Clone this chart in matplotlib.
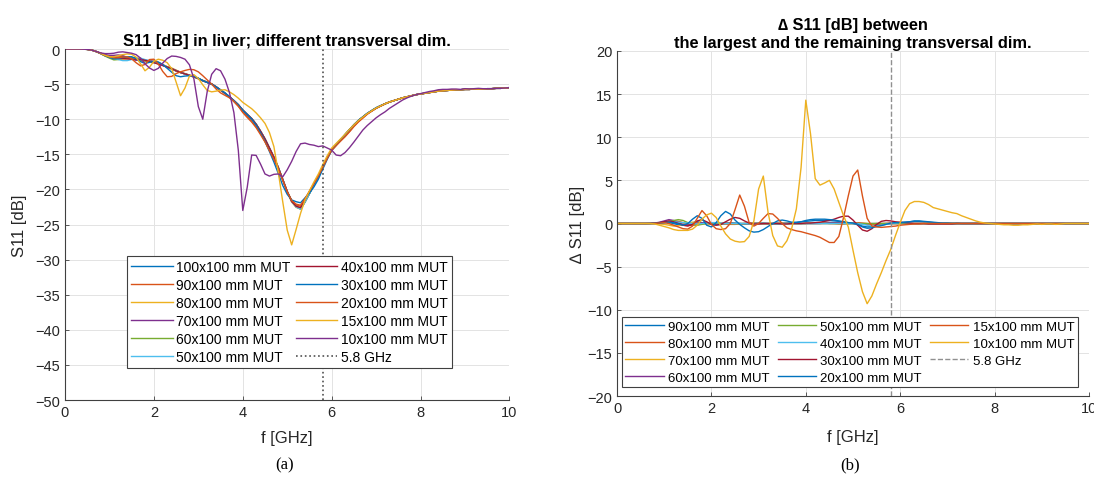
import matplotlib
matplotlib.use('Agg')
import matplotlib.pyplot as plt
import numpy as np

plt.rcParams['font.family'] = ['Liberation Sans', 'DejaVu Sans']

# frequency sampling grid [GHz], 0..10 in 0.1 steps
freq = np.linspace(0, 10, 101)

# S11 [dB] of the largest (100x100 mm) MUT
s11_100 = [
    0, 0, 0, 0, -0.02, -0.05, -0.15, -0.35, -0.6, -0.85,
    -1.0, -1.1, -1.15, -1.2, -1.3, -1.4, -1.45, -1.5, -1.6, -1.7,
    -1.85, -2.05, -2.3, -2.55, -2.8, -3.1, -3.35, -3.55, -3.75, -3.95,
    -4.2, -4.5, -4.75, -5.0, -5.4, -5.85, -6.3, -6.8, -7.35, -7.95,
    -8.7, -9.3, -9.9, -10.7, -11.7, -12.8, -14.1, -15.4, -16.9, -18.6,
    -20.3, -21.7, -22.5, -22.8, -21.8, -20.6, -19.4, -18.2, -16.8, -15.5,
    -14.3, -13.6, -12.9, -12.2, -11.5, -10.8, -10.2, -9.7, -9.2, -8.8,
    -8.4, -8.1, -7.8, -7.55, -7.35, -7.15, -6.95, -6.8, -6.65, -6.5,
    -6.4, -6.3, -6.2, -6.1, -6.0, -5.95, -5.9, -5.85, -5.8, -5.8,
    -5.75, -5.75, -5.7, -5.7, -5.7, -5.65, -5.65, -5.6, -5.6, -5.55,
    -5.5,
]

# Delta S11 [dB] = S11(100x100) - S11(dim)
d_90 = [
    0, 0, 0, 0, 0, 0, 0, 0.02, 0.05, 0.1,
    0.15, 0.1, 0, -0.15, -0.2, -0.1, 0.1, 0.2, 0.1, 0,
    -0.1, -0.15, -0.1, 0, 0.05, 0.05, 0, -0.05, -0.05, 0,
    0.05, 0.05, 0, -0.05, -0.05, 0, 0.05, 0.1, 0.15, 0.2,
    0.25, 0.3, 0.35, 0.35, 0.35, 0.35, 0.3, 0.25, 0.2, 0.1,
    0, -0.15, -0.3, -0.4, -0.35, -0.25, -0.15, -0.05, 0, 0.05,
    0.1, 0.15, 0.2, 0.25, 0.25, 0.2, 0.15, 0.1, 0.05, 0.05,
    0.05, 0.05, 0.05, 0, 0, 0, 0, 0, 0, 0,
    0, 0, 0, 0, 0, 0, 0, 0, 0, 0,
    0, 0, 0, 0, 0, 0, 0, 0, 0, 0,
    0,
]
d_80 = [
    0, 0, 0, 0, 0, 0, 0, 0, 0.02, 0.05,
    0.1, 0.2, 0.3, 0.25, 0.1, -0.1, -0.2, -0.15, 0, 0.1,
    0.1, 0.05, 0, -0.05, -0.1, -0.1, -0.05, 0, 0.05, 0.05,
    0, -0.05, -0.05, 0, 0.05, 0.05, 0, 0, 0, 0,
    0, 0.05, 0.05, 0.05, 0.05, 0, 0, -0.05, -0.05, 0,
    0.05, 0.1, 0.05, 0, -0.1, -0.1, -0.05, 0, 0.05, 0.05,
    0.05, 0.05, 0, 0, 0, 0, 0, 0, 0, 0,
    0, 0, 0, 0, 0, 0, 0, 0, 0, 0,
    0, 0, 0, 0, 0, 0, 0, 0, 0, 0,
    0, 0, 0, 0, 0, 0, 0, 0, 0, 0,
    0,
]
d_70 = [
    0, 0, 0, 0, 0, 0, 0, 0, 0, -0.05,
    -0.1, -0.2, -0.3, -0.25, -0.1, 0.05, 0.15, 0.1, 0, -0.05,
    -0.05, 0, 0.05, 0.05, 0, -0.05, -0.05, 0, 0, 0,
    0, 0, 0, 0, 0, 0, 0, 0, 0, 0,
    0, 0.05, 0.05, 0.05, 0.05, 0.05, 0, 0, 0, 0,
    0, 0, -0.1, -0.1, -0.05, 0, 0, 0, 0, 0,
    0, 0, 0, 0, 0, 0, 0, 0, 0, 0,
    0, 0, 0, 0, 0, 0, 0, 0, 0, 0,
    0, 0, 0, 0, 0, 0, 0, 0, 0, 0,
    0, 0, 0, 0, 0, 0, 0, 0, 0, 0,
    0,
]
d_60 = [
    0, 0, 0, 0, 0, 0, 0, 0.02, 0.05, 0.15,
    0.3, 0.45, 0.35, 0.1, -0.1, -0.2, -0.1, 0.05, 0.1, 0.05,
    0, -0.05, 0, 0.05, 0.05, 0, 0, 0, 0, 0,
    0, 0, 0, 0, 0, 0, 0, 0, 0, 0,
    0, 0, 0, 0, 0.05, 0.1, 0.1, 0.1, 0.05, 0,
    0, -0.05, -0.1, -0.05, 0, 0, 0, 0, 0, 0,
    0, 0, 0, 0, 0, 0, 0, 0, 0, 0,
    0, 0, 0, 0, 0, 0, 0, 0, 0, 0,
    0, 0, 0, 0, 0, 0, 0, 0, 0, 0,
    0, 0, 0, 0, 0, 0, 0, 0, 0, 0,
    0,
]
d_50 = [
    0, 0, 0, 0, 0, 0, 0, 0, 0, 0.05,
    0.1, 0.2, 0.35, 0.45, 0.35, 0.1, -0.1, -0.2, -0.1, 0,
    0.05, 0.05, 0, 0, 0, 0, 0, 0, 0, 0,
    0, 0, 0, 0, 0, 0, 0, 0, 0, 0,
    0, 0, 0, 0, 0, 0, 0, 0, 0, 0,
    0, 0, 0, 0, 0, 0, 0, 0, 0, 0,
    0, 0, 0, 0, 0, 0, 0, 0, 0, 0,
    0, 0, 0, 0, 0, 0, 0, 0, 0, 0,
    0, 0, 0, 0, 0, 0, 0, 0, 0, 0,
    0, 0, 0, 0, 0, 0, 0, 0, 0, 0,
    0,
]
d_40 = [
    0, 0, 0, 0, 0, 0, 0, 0, 0, 0.05,
    0.1, 0.15, 0.2, 0.15, 0.1, 0.05, 0, -0.05, 0, 0.05,
    0.1, 0.1, 0.05, 0, 0, 0, 0, 0, 0, 0,
    0, 0, 0, 0, 0, 0, 0, 0, 0, 0,
    0, 0, 0, 0, 0, 0, 0, 0, 0, 0,
    0, 0, -0.1, -0.2, -0.3, -0.3, -0.2, -0.1, 0, 0.05,
    0.1, 0.1, 0.05, 0, 0, 0, 0, 0, 0, 0,
    0, 0, 0, 0, 0, 0, 0, 0, 0, 0,
    0, 0, 0, 0, 0, 0, 0, 0, 0, 0,
    0, 0, 0, 0, 0, 0, 0, 0, 0, 0,
    0,
]
d_30 = [
    0, 0, 0, 0, 0, 0, 0, 0, 0.02, 0.1,
    0.2, 0.3, 0.2, 0, -0.2, -0.3, -0.1, 0.3, 0.45, 0.2,
    -0.1, -0.2, -0.1, 0.2, 0.5, 0.7, 0.6, 0.3, 0.05, -0.05,
    -0.05, 0, 0, 0, 0, -0.05, -0.05, 0, 0, 0,
    0.05, 0.05, 0.1, 0.15, 0.25, 0.35, 0.5, 0.7, 0.85, 0.85,
    0.4, -0.2, -0.75, -0.9, -0.6, -0.1, 0.25, 0.35, 0.3, 0.2,
    0.15, 0.1, 0.05, 0, 0, 0, -0.05, -0.05, -0.05, -0.05,
    -0.05, -0.05, 0, 0, 0, 0, 0, 0, 0, 0,
    0, 0, 0, 0, 0, 0, 0, 0, 0, 0,
    0, 0, 0, 0, 0, 0, 0, 0, 0, 0,
    0,
]
d_20 = [
    0, 0, 0, 0, 0, 0, 0, 0, 0, 0.05,
    0.1, 0.15, 0.1, -0.05, -0.2, 0, 0.5, 0.9, 0.6, -0.2,
    -0.4, 0.1, 0.9, 1.4, 1.1, 0.4, -0.1, -0.5, -0.85, -1.0,
    -0.95, -0.7, -0.35, 0, 0.3, 0.4, 0.3, 0.15, 0.1, 0.2,
    0.35, 0.45, 0.5, 0.5, 0.5, 0.45, 0.4, 0.3, 0.2, 0.1,
    0.05, -0.1, -0.4, -0.55, -0.5, -0.35, -0.25, -0.1, 0.05, 0.1,
    0.1, 0.15, 0.2, 0.3, 0.3, 0.25, 0.2, 0.15, 0.1, 0.05,
    0.05, 0, 0, 0, 0, 0, 0, 0, 0, 0,
    0, 0, 0, 0, 0, 0, 0, 0, 0, 0,
    0, 0, 0, 0, 0, 0, 0, 0, 0, 0,
    0,
]
d_15 = [
    0, 0, 0, 0, 0, 0, 0, 0, 0, 0.05,
    0.1, 0, -0.2, -0.4, -0.6, -0.65, -0.3, 0.6, 1.5, 0.9,
    -0.1, -0.6, -0.7, -0.6, 0, 1.6, 3.3, 2.0, 0.1, -0.3,
    0, 0.6, 1.15, 1.1, 0.6, 0, -0.5, -0.7, -0.85, -0.95,
    -1.1, -1.25, -1.4, -1.6, -1.9, -2.2, -2.2, -1.5, 0.7, 3.2,
    5.5, 6.2, 3.2, 0.6, -0.3, -0.4, -0.45, -0.4, -0.35, -0.3,
    -0.2, -0.15, -0.1, -0.05, -0.05, 0, 0, 0, 0, 0,
    0, 0, 0, 0, 0, 0, 0, 0, 0, 0,
    0, 0, 0, 0, 0, 0, 0, 0, 0, 0,
    0, 0, 0, 0, 0, 0, 0, 0, 0, 0,
    0,
]
d_10 = [
    0, 0, 0, 0, 0, 0, 0, 0, -0.05, -0.2,
    -0.35, -0.5, -0.7, -0.8, -0.8, -0.8, -0.65, -0.2, 0.5, 1.0,
    1.2, 0.7, -0.3, -1.2, -1.8, -2.05, -2.15, -2.1, -1.5, 0.3,
    4.0, 5.5, 1.3, -1.4, -2.6, -2.75, -2.0, -0.6, 1.7, 6.5,
    14.3, 10.4, 5.2, 4.45, 4.7, 5.0, 4.0, 2.45, 0.9, -0.4,
    -3.1, -5.7, -7.9, -9.3, -8.4, -7.0, -5.7, -4.3, -3.0, -1.4,
    0.1, 1.5, 2.3, 2.55, 2.55, 2.45, 2.2, 1.85, 1.7, 1.55,
    1.4, 1.25, 1.15, 0.9, 0.7, 0.5, 0.3, 0.15, 0.05, 0,
    -0.05, -0.1, -0.15, -0.15, -0.2, -0.2, -0.15, -0.15, -0.1, -0.05,
    -0.1, -0.05, -0.05, -0.1, -0.05, 0, 0, 0, 0, 0,
    0,
]

dims = ['90', '80', '70', '60', '50', '40', '30', '20', '15', '10']
deltas = [d_90, d_80, d_70, d_60, d_50, d_40, d_30, d_20, d_15, d_10]
f_marker = 5.8

colors = ['#0072BD', '#D95319', '#EDB120', '#7E2F8E',
          '#77AC30', '#4DBEEE', '#A2142F']
dark = '#262626'

fig = plt.figure(figsize=(10.94, 4.81), dpi=100)
ax1 = fig.add_axes([0.0594, 0.1663, 0.4063, 0.7297])
ax2 = fig.add_axes([0.564, 0.1746, 0.4314, 0.7173])


def style(ax):
    for side in ['top', 'right']:
        ax.spines[side].set_visible(False)
    for side in ['left', 'bottom']:
        ax.spines[side].set_color('#404040')
        ax.spines[side].set_linewidth(0.8)
    ax.tick_params(direction='in', length=3, width=0.6, colors='#404040',
                   labelcolor=dark, labelsize=10.5)
    ax.grid(True, color='#e3e3e3', linewidth=0.7)
    ax.set_axisbelow(True)


# (a) S11 of all transversal dimensions
base = np.array(s11_100)
ax1.plot(freq, base, color=colors[0], lw=1.0, label='100x100 mm MUT')
for i, (dim, d) in enumerate(zip(dims, deltas)):
    ax1.plot(freq, base - np.array(d), color=colors[(i + 1) % 7], lw=1.0,
             label=dim + 'x100 mm MUT')
ax1.axvline(f_marker, color='#505050', ls=':', lw=1.2, label='5.8 GHz')
style(ax1)
ax1.set_xlim(0, 10)
ax1.set_ylim(-50, 0)
ax1.set_xticks(np.arange(0, 11, 2))
ax1.set_yticks(np.arange(-50, 1, 5))
ax1.set_title('S11 [dB] in liver; different transversal dim.',
              fontsize=11.8, fontweight='bold', pad=3)
ax1.set_xlabel('f [GHz]', fontsize=12, color=dark)
ax1.set_ylabel('S11 [dB]', fontsize=12, color=dark)
ax1.xaxis.set_label_coords(0.5, -0.085)
ax1.yaxis.set_label_coords(-0.085, 0.5)
leg1 = ax1.legend(ncol=2, loc='upper left', bbox_to_anchor=(0.1395, 0.41),
                  borderaxespad=0, fontsize=10.0, handlelength=3.0,
                  handletextpad=0.25, columnspacing=0.35, labelspacing=0.28,
                  borderpad=0.3, fancybox=False, framealpha=1,
                  edgecolor='#404040')
leg1.get_frame().set_linewidth(0.8)

# (b) difference to the largest dimension
for i, (dim, d) in enumerate(zip(dims, deltas)):
    ax2.plot(freq, d, color=colors[i % 7], lw=1.0, label=dim + 'x100 mm MUT')
ax2.axvline(f_marker, color='#909090', ls='--', lw=1.0, label='5.8 GHz')
style(ax2)
ax2.set_xlim(0, 10)
ax2.set_ylim(-20, 20)
ax2.set_xticks(np.arange(0, 11, 2))
ax2.set_yticks(np.arange(-20, 21, 5))
ax2.set_title('\u2206 S11 [dB] between\nthe largest and the remaining transversal dim.',
              fontsize=11.8, fontweight='bold', pad=3, linespacing=1.25)
ax2.set_xlabel('f [GHz]', fontsize=12, color=dark)
ax2.set_ylabel('\u2206 S11 [dB]', fontsize=12, color=dark)
ax2.xaxis.set_label_coords(0.5, -0.096)
ax2.yaxis.set_label_coords(-0.068, 0.5)
leg2 = ax2.legend(ncol=3, loc='upper left', bbox_to_anchor=(0.0106, 0.229),
                  borderaxespad=0, fontsize=9.5, handlelength=2.9,
                  handletextpad=0.35, columnspacing=0.6, labelspacing=0.36,
                  borderpad=0.25, fancybox=False, framealpha=1,
                  edgecolor='#404040')
leg2.get_frame().set_linewidth(0.8)

fig.text(285 / 1094, 1 - 465 / 481, '(a)', family='Liberation Serif',
         fontsize=12, ha='center', va='center')
fig.text(850 / 1094, 1 - 465 / 481, '(b)', family='Liberation Serif',
         fontsize=12, ha='center', va='center')

plt.savefig('out.png', dpi=100)
plt.close()
